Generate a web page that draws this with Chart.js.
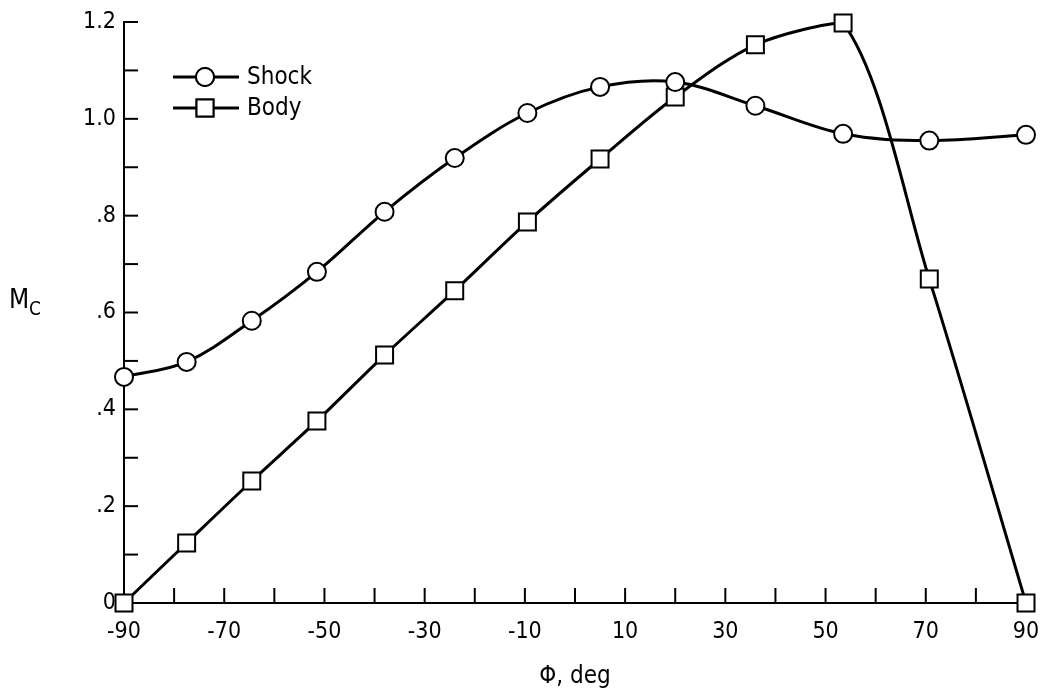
<!DOCTYPE html>
<html>
<head>
<meta charset="utf-8">
<script src="https://cdn.jsdelivr.net/npm/chart.js@4/dist/chart.umd.min.js"></script>
<style>
  html, body { margin: 0; padding: 0; background: #fff; }
  #wrap { width: 1040px; height: 695px; position: relative; }
</style>
</head>
<body>
<div id="wrap"><canvas id="mcChart"></canvas></div>
<script>
// circumferential angle, deg
const phi = [-90, -77.5, -64.5, -51.5, -38, -24, -9.5, 5, 20, 36, 53.5, 70.7, 90];
// crossflow Mach number at the shock and at the body
const shockMc = [0.467, 0.498, 0.583, 0.684, 0.808, 0.919, 1.012, 1.066, 1.076, 1.027, 0.969, 0.955, 0.967];
const bodyMc = [0, 0.124, 0.252, 0.376, 0.512, 0.645, 0.787, 0.917, 1.045, 1.153, 1.198, 0.669, 0];
// tick labels
const xTickLabels = [-90, -70, -50, -30, -10, 10, 30, 50, 70, 90];
const yTickValues = [0, 0.2, 0.4, 0.6, 0.8, 1.0, 1.2];
const yTickLabels = ['0', '.2', '.4', '.6', '.8', '1.0', '1.2'];

const FONT = '"DejaVu Sans Condensed", "Liberation Sans Narrow", "DejaVu Sans", sans-serif';
Chart.defaults.font.family = FONT;
Chart.defaults.color = '#000';

const toPoints = ys => phi.map((x, i) => ({ x: x, y: ys[i] }));

// short inward ticks, legend and the M_C label
const decorations = {
    id: 'decorations',
    afterDraw(chart) {
        const ctx = chart.ctx;
        const xs = chart.scales.x;
        const ys = chart.scales.y;
        const area = chart.chartArea;
        ctx.save();
        ctx.strokeStyle = '#000';
        ctx.lineWidth = 2;
        xs.ticks.forEach(t => {
            if (t.value <= -90 || t.value >= 90) return;
            const px = xs.getPixelForValue(t.value);
            ctx.beginPath();
            ctx.moveTo(px, area.bottom);
            ctx.lineTo(px, area.bottom - 15);
            ctx.stroke();
        });
        ys.ticks.forEach(t => {
            if (t.value <= 0) return;
            const py = ys.getPixelForValue(t.value);
            ctx.beginPath();
            ctx.moveTo(area.left, py);
            ctx.lineTo(area.left + 14, py);
            ctx.stroke();
        });

        // legend
        const lx = area.left + 49;
        const rows = [
            { label: 'Shock', y: area.top + 55, style: 'circle', r: 9 },
            { label: 'Body', y: area.top + 86, style: 'rect', r: 12 }
        ];
        rows.forEach(row => {
            ctx.lineWidth = 3;
            ctx.beginPath();
            ctx.moveTo(lx, row.y);
            ctx.lineTo(lx + 66, row.y);
            ctx.stroke();
            ctx.fillStyle = '#fff';
            ctx.lineWidth = 2;
            Chart.helpers.drawPoint(ctx, { pointStyle: row.style, radius: row.r, borderWidth: 2 }, lx + 32, row.y);
            ctx.fill();
            ctx.stroke();
            ctx.fillStyle = '#000';
            ctx.font = '24px ' + FONT;
            ctx.textAlign = 'left';
            ctx.textBaseline = 'middle';
            ctx.fillText(row.label, lx + 74, row.y + 1);
        });

        // y axis title M subscript C
        ctx.fillStyle = '#000';
        ctx.textBaseline = 'alphabetic';
        ctx.font = '26px ' + FONT;
        ctx.fillText('M', 9, 308);
        ctx.font = '19px ' + FONT;
        ctx.fillText('C', 29, 315);
        ctx.restore();
    }
};

new Chart(document.getElementById('mcChart'), {
    type: 'scatter',
    data: {
        datasets: [{
            label: 'Shock',
            data: toPoints(shockMc),
            showLine: true,
            tension: 0.35,
            borderColor: '#000',
            borderWidth: 3,
            pointStyle: 'circle',
            pointRadius: 9,
            pointHoverRadius: 9,
            pointBorderWidth: 2,
            pointBackgroundColor: '#fff',
            pointBorderColor: '#000',
            clip: false
        }, {
            label: 'Body',
            data: toPoints(bodyMc),
            showLine: true,
            tension: 0.3,
            borderColor: '#000',
            borderWidth: 3,
            pointStyle: 'rect',
            pointRadius: 12,
            pointHoverRadius: 12,
            pointBorderWidth: 2,
            pointBackgroundColor: '#fff',
            pointBorderColor: '#000',
            clip: false
        }]
    },
    options: {
        responsive: true,
        maintainAspectRatio: false,
        animation: false,
        events: [],
        layout: { padding: { top: 22, right: 5, left: 0, bottom: 0 } },
        plugins: {
            legend: { display: false },
            tooltip: { enabled: false }
        },
        scales: {
            x: {
                type: 'linear',
                min: -90,
                max: 90,
                afterFit: s => { s.height = 92; s.paddingLeft = 0; s.paddingRight = 0; },
                grid: { display: false, drawTicks: false },
                border: { display: true, color: '#000', width: 2 },
                ticks: {
                    stepSize: 10,
                    padding: 15,
                    maxRotation: 0,
                    autoSkip: false,
                    font: { size: 23 },
                    callback: v => xTickLabels.includes(v) ? String(v) : ''
                },
                title: {
                    display: true,
                    text: 'Φ, deg',
                    font: { size: 24 },
                    padding: { top: 0, bottom: 4 }
                }
            },
            y: {
                type: 'linear',
                min: 0,
                max: 1.2,
                afterFit: s => { s.width = 124; s.paddingTop = 0; s.paddingBottom = 0; },
                grid: { display: false, drawTicks: false },
                border: { display: true, color: '#000', width: 2 },
                ticks: {
                    stepSize: 0.1,
                    padding: 8,
                    autoSkip: false,
                    font: { size: 23 },
                    callback: v => {
                        const i = yTickValues.findIndex(t => Math.abs(t - v) < 1e-6);
                        return i >= 0 ? yTickLabels[i] : '';
                    }
                }
            }
        }
    },
    plugins: [decorations]
});
</script>
</body>
</html>
